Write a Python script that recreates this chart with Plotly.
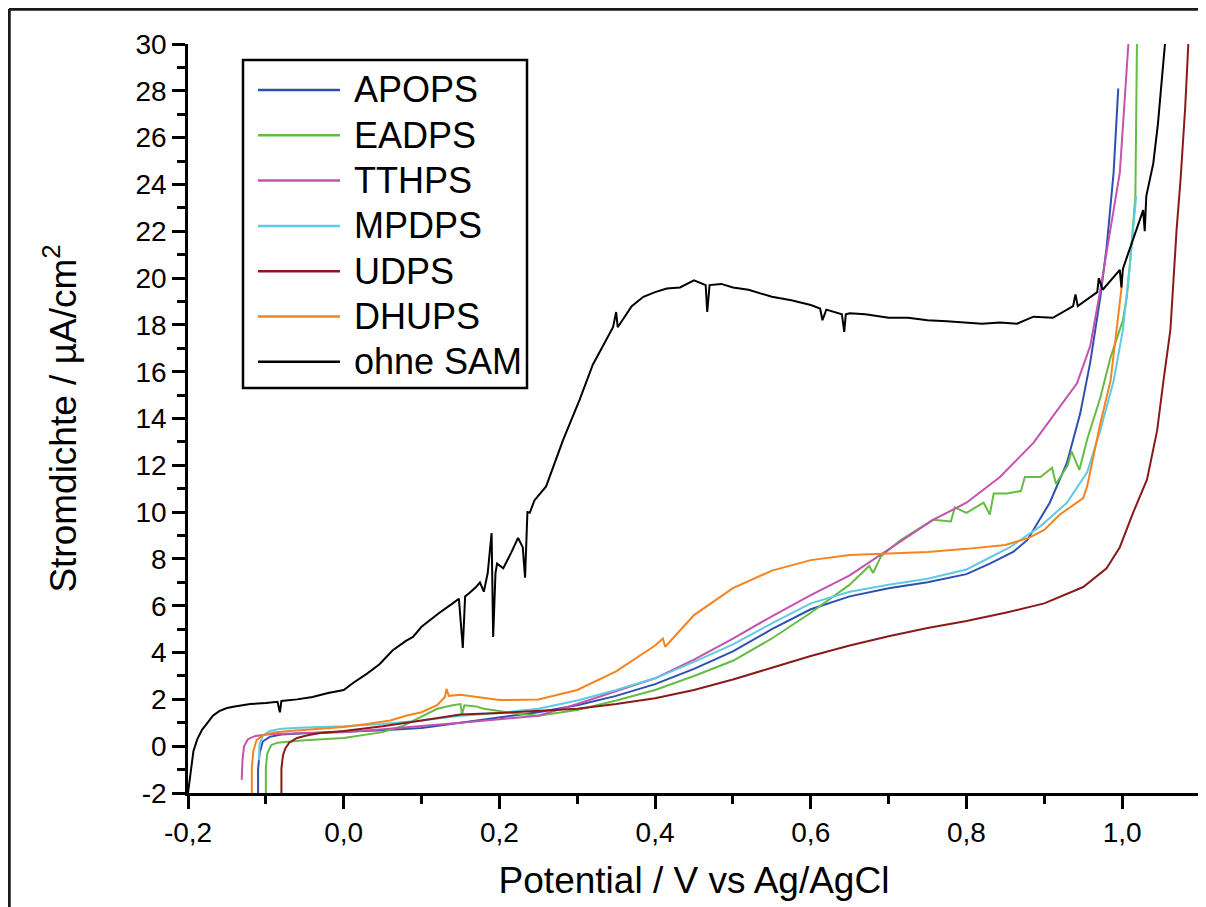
import plotly.graph_objects as go

# ---------------- data ----------------
names = ["APOPS", "EADPS", "TTHPS", "MPDPS", "UDPS", "DHUPS", "ohne SAM"]
colors = ["#2f4fae", "#63bd45", "#c452ae", "#5ecbe2", "#8a1a1a", "#f7831f", "#000000"]

apops_x = [-0.110, -0.110, -0.108, -0.104, -0.095, -0.08, -0.05, 0.0, 0.05, 0.1, 0.15, 0.2, 0.25, 0.3,
           0.35, 0.4, 0.45, 0.5, 0.55, 0.6, 0.65, 0.7, 0.75, 0.8, 0.83, 0.86, 0.878, 0.907, 0.929,
           0.946, 0.959, 0.972, 0.98, 0.989, 0.995]
apops_y = [-2.0, -1.0, -0.3, 0.2, 0.4, 0.5, 0.55, 0.6, 0.68, 0.78, 1.0, 1.2, 1.45, 1.75,
           2.15, 2.65, 3.3, 4.05, 5.0, 5.85, 6.4, 6.75, 7.0, 7.35, 7.8, 8.3, 8.8, 10.4, 12.1,
           14.2, 16.4, 19.2, 21.3, 24.5, 28.1]

eadps_x = [-0.100, -0.100, -0.098, -0.093, -0.085, -0.07, -0.05, 0.0, 0.05, 0.075, 0.1, 0.12, 0.14,
           0.15, 0.152, 0.155, 0.17, 0.18, 0.2, 0.22, 0.25, 0.3, 0.35, 0.4, 0.45, 0.5, 0.55, 0.6,
           0.65, 0.675, 0.68, 0.69, 0.715, 0.757, 0.78, 0.785, 0.8, 0.822, 0.83, 0.835, 0.852, 0.87,
           0.875, 0.895, 0.91, 0.915, 0.93, 0.935, 0.945, 0.95, 0.955, 0.972, 0.985, 1.001, 1.006,
           1.01, 1.014, 1.017, 1.019]
eadps_y = [-2.0, -0.9, -0.3, 0.05, 0.15, 0.2, 0.25, 0.35, 0.6, 0.85, 1.25, 1.6, 1.75,
           1.8, 1.35, 1.75, 1.7, 1.6, 1.5, 1.4, 1.3, 1.55, 1.95, 2.4, 3.0, 3.65, 4.6, 5.7,
           6.9, 7.7, 7.4, 8.1, 8.8, 9.67, 9.6, 10.2, 9.97, 10.4, 9.9, 10.8, 10.8, 10.9,
           11.5, 11.5, 11.9, 11.2, 12.0, 12.6, 11.8, 12.4, 13.1, 14.9, 16.6, 18.2, 19.2,
           20.6, 22.1, 23.5, 30.0]

tthps_x = [-0.131, -0.130, -0.128, -0.123, -0.115, -0.1, -0.05, 0.0, 0.05, 0.1, 0.15, 0.2, 0.25, 0.3,
           0.35, 0.4, 0.45, 0.5, 0.55, 0.6, 0.65, 0.7, 0.757, 0.8, 0.843, 0.886, 0.92, 0.942,
           0.959, 0.972, 0.985, 0.997, 1.008]
tthps_y = [-1.44, -0.6, 0.0, 0.3, 0.42, 0.5, 0.56, 0.6, 0.72, 0.85, 1.0, 1.15, 1.3, 1.8,
           2.35, 2.9, 3.7, 4.6, 5.55, 6.45, 7.3, 8.4, 9.67, 10.4, 11.5, 12.96, 14.5, 15.5,
           17.1, 19.5, 22.1, 24.5, 30.0]

mpdps_x = [-0.109, -0.108, -0.104, -0.095, -0.08, -0.05, 0.0, 0.05, 0.1, 0.15, 0.2, 0.25, 0.3, 0.35,
           0.4, 0.45, 0.5, 0.55, 0.6, 0.65, 0.7, 0.75, 0.8, 0.856, 0.895, 0.929, 0.955, 0.972,
           0.989, 1.001, 1.01, 1.018]
mpdps_y = [-0.6, 0.1, 0.45, 0.65, 0.75, 0.8, 0.85, 0.95, 1.1, 1.3, 1.42, 1.6, 1.95, 2.4,
           2.9, 3.6, 4.35, 5.25, 6.1, 6.6, 6.9, 7.15, 7.55, 8.5, 9.4, 10.4, 11.7, 13.5,
           15.6, 17.8, 20.6, 23.5]

udps_x = [-0.080, -0.080, -0.078, -0.075, -0.07, -0.06, -0.045, -0.03, 0.0, 0.05, 0.1, 0.15, 0.2,
          0.25, 0.3, 0.35, 0.4, 0.45, 0.5, 0.55, 0.6, 0.65, 0.7, 0.75, 0.8, 0.85, 0.9, 0.95,
          0.98, 0.997, 1.014, 1.032, 1.045, 1.053, 1.062, 1.07, 1.075, 1.081, 1.085]
udps_y = [-2.0, -0.95, -0.4, -0.1, 0.15, 0.35, 0.48, 0.56, 0.65, 0.85, 1.1, 1.35, 1.42,
          1.5, 1.6, 1.8, 2.05, 2.4, 2.85, 3.35, 3.85, 4.3, 4.7, 5.05, 5.35, 5.7, 6.1, 6.8,
          7.6, 8.5, 9.97, 11.4, 13.5, 15.6, 17.8, 22.1, 24.2, 27.3, 30.0]

dhups_x = [-0.118, -0.118, -0.116, -0.112, -0.105, -0.09, -0.07, -0.04, 0.0, 0.03, 0.06, 0.08, 0.1,
           0.12, 0.13, 0.132, 0.135, 0.15, 0.17, 0.2, 0.25, 0.3, 0.35, 0.4, 0.41, 0.413, 0.45,
           0.5, 0.55, 0.6, 0.65, 0.7, 0.75, 0.8, 0.85, 0.88, 0.9, 0.92, 0.942, 0.95, 0.955,
           0.972, 0.985, 0.993, 1.0]
dhups_y = [-2.0, -0.9, -0.2, 0.25, 0.45, 0.58, 0.65, 0.72, 0.82, 0.95, 1.1, 1.3, 1.45,
           1.75, 2.1, 2.45, 2.15, 2.2, 2.1, 1.97, 2.0, 2.4, 3.2, 4.3, 4.6, 4.25, 5.6,
           6.75, 7.5, 7.95, 8.17, 8.25, 8.3, 8.43, 8.6, 8.9, 9.24, 9.9, 10.4, 10.6, 11.1,
           13.8, 15.6, 17.8, 19.8]

ohne_x = [-0.200, -0.197, -0.193, -0.188, -0.182, -0.175, -0.168, -0.16, -0.15, -0.14, -0.12, -0.1,
          -0.085, -0.082, -0.08, -0.06, -0.04, -0.02, 0.0, 0.012, 0.03, 0.046, 0.063, 0.08, 0.089,
          0.1, 0.115, 0.123, 0.14, 0.148, 0.153, 0.156, 0.16, 0.17, 0.175, 0.18, 0.185, 0.19,
          0.192, 0.195, 0.197, 0.205, 0.215, 0.224, 0.23, 0.233, 0.236, 0.239, 0.245, 0.26,
          0.282, 0.303, 0.32, 0.346, 0.35, 0.352, 0.37, 0.385, 0.4, 0.415, 0.432, 0.45, 0.465,
          0.467, 0.47, 0.485, 0.5, 0.52, 0.55, 0.575, 0.6, 0.612, 0.615, 0.62, 0.64, 0.643, 0.645,
          0.65, 0.67, 0.7, 0.725, 0.75, 0.775, 0.8, 0.82, 0.843, 0.865, 0.886, 0.911, 0.937,
          0.94, 0.943, 0.968, 0.97, 0.975, 0.997, 0.999, 1.001, 1.006, 1.019, 1.027, 1.029,
          1.031, 1.04, 1.046, 1.051, 1.055]
ohne_y = [-2.0, -1.2, -0.2, 0.3, 0.7, 1.0, 1.3, 1.5, 1.63, 1.7, 1.8, 1.85,
          1.9, 1.45, 1.93, 2.0, 2.1, 2.27, 2.4, 2.7, 3.1, 3.5, 4.1, 4.5, 4.67,
          5.1, 5.5, 5.7, 6.1, 6.3, 4.2, 6.4, 6.5, 6.8, 7.0, 6.6, 7.4, 9.1,
          4.67, 7.4, 7.8, 7.6, 8.26, 8.9, 8.5, 7.2, 10.0, 9.97, 10.5, 11.1,
          13.1, 14.8, 16.3, 17.9, 18.55, 17.9, 18.8, 19.2, 19.4, 19.55, 19.6, 19.9, 19.7,
          18.55, 19.7, 19.75, 19.6, 19.5, 19.2, 19.05, 18.85, 18.7, 18.2, 18.65, 18.45, 17.7, 18.45,
          18.5, 18.45, 18.3, 18.3, 18.2, 18.15, 18.1, 18.05, 18.1, 18.05, 18.35, 18.3, 18.8,
          19.3, 18.8, 19.4, 20.0, 19.5, 20.35, 19.6, 20.4, 20.9, 22.1, 22.9, 22.0,
          23.5, 24.9, 26.6, 28.5, 30.0]

series_x = [apops_x, eadps_x, tthps_x, mpdps_x, udps_x, dhups_x, ohne_x]
series_y = [apops_y, eadps_y, tthps_y, mpdps_y, udps_y, dhups_y, ohne_y]

x_tick_vals = [-0.2, 0.0, 0.2, 0.4, 0.6, 0.8, 1.0]
x_tick_text = ["-0,2", "0,0", "0,2", "0,4", "0,6", "0,8", "1,0"]
y_tick_vals = [-2, 0, 2, 4, 6, 8, 10, 12, 14, 16, 18, 20, 22, 24, 26, 28, 30]
y_tick_text = ["-2", "0", "2", "4", "6", "8", "10", "12", "14", "16", "18", "20", "22", "24",
               "26", "28", "30"]

# ---------------- figure ----------------
W, H = 1198, 899          # page body adds an 8px margin
ML, MR, MT, MB = 180, 6, 36, 114
PW, PH = W - ML - MR, H - MT - MB


def px_to_paper_x(px):
    return (px - ML) / PW


def px_to_paper_y(py):
    return (H - MB - py) / PH


fig = go.Figure()
for i, (nm, col) in enumerate(zip(names, colors)):
    fig.add_trace(go.Scatter(x=series_x[i], y=series_y[i], mode="lines", name=nm,
                             line=dict(color=col, width=2), showlegend=False))

font_family = "Liberation Sans, Arial, sans-serif"
fig.update_layout(
    width=W, height=H,
    margin=dict(l=ML, r=MR, t=MT, b=MB),
    paper_bgcolor="white", plot_bgcolor="white",
    font=dict(family=font_family, color="black"),
    showlegend=False,
)
fig.update_xaxes(
    range=[-0.2, 1.1], showgrid=False, zeroline=False,
    showline=True, linecolor="black", linewidth=2.5, mirror=False,
    ticks="outside", ticklen=13, tickwidth=2.5, tickcolor="black",
    tickvals=x_tick_vals, ticktext=x_tick_text,
    tickfont=dict(size=28, family=font_family),
    minor=dict(ticks="outside", ticklen=8, tickwidth=2.5, tickcolor="black", dtick=0.1, tick0=-0.2),
    title=dict(text="Potential / V vs Ag/AgCl", font=dict(size=37, family=font_family), standoff=20),
)
fig.update_yaxes(
    range=[-2, 30], showgrid=False, zeroline=False,
    showline=True, linecolor="black", linewidth=2.5, mirror=False,
    ticks="outside", ticklen=13, tickwidth=2.5, tickcolor="black",
    tickvals=y_tick_vals, ticktext=y_tick_text,
    tickfont=dict(size=28, family=font_family),
    minor=dict(ticks="outside", ticklen=8, tickwidth=2.5, tickcolor="black", dtick=1, tick0=0),
    title=dict(text="Stromdichte / µA/cm<sup>2</sup>", font=dict(size=37, family=font_family), standoff=48),
)

# outer frame (only top and left edges are visible in the reference)
fx, fy = px_to_paper_x(1), px_to_paper_y(1)
fig.add_shape(type="line", xref="paper", yref="paper", x0=fx, x1=px_to_paper_x(W + 4), y0=fy, y1=fy,
              line=dict(color="#1a1a1a", width=3.5))
fig.add_shape(type="line", xref="paper", yref="paper", x0=fx, x1=fx, y0=px_to_paper_y(H + 4), y1=fy,
              line=dict(color="#1a1a1a", width=3.5))

# legend box drawn inside the plot
lg_left, lg_right, lg_top, lg_bottom = 235, 519, 52, 380
row0, row_step = 82, 45.3
line_x0, line_x1, text_x = 250, 332, 344
fig.add_shape(type="rect", xref="paper", yref="paper",
              x0=px_to_paper_x(lg_left), x1=px_to_paper_x(lg_right),
              y0=px_to_paper_y(lg_bottom), y1=px_to_paper_y(lg_top),
              line=dict(color="black", width=2.5), fillcolor="white", layer="above")
for i, (nm, col) in enumerate(zip(names, colors)):
    ry = px_to_paper_y(row0 + i * row_step)
    fig.add_shape(type="line", xref="paper", yref="paper",
                  x0=px_to_paper_x(line_x0), x1=px_to_paper_x(line_x1), y0=ry, y1=ry,
                  line=dict(color=col, width=2.5), layer="above")
    fig.add_annotation(xref="paper", yref="paper", x=px_to_paper_x(text_x), y=ry,
                       xanchor="left", yanchor="middle", showarrow=False, text=nm,
                       font=dict(size=36, family=font_family, color="black"))

fig.write_html("out.html")
